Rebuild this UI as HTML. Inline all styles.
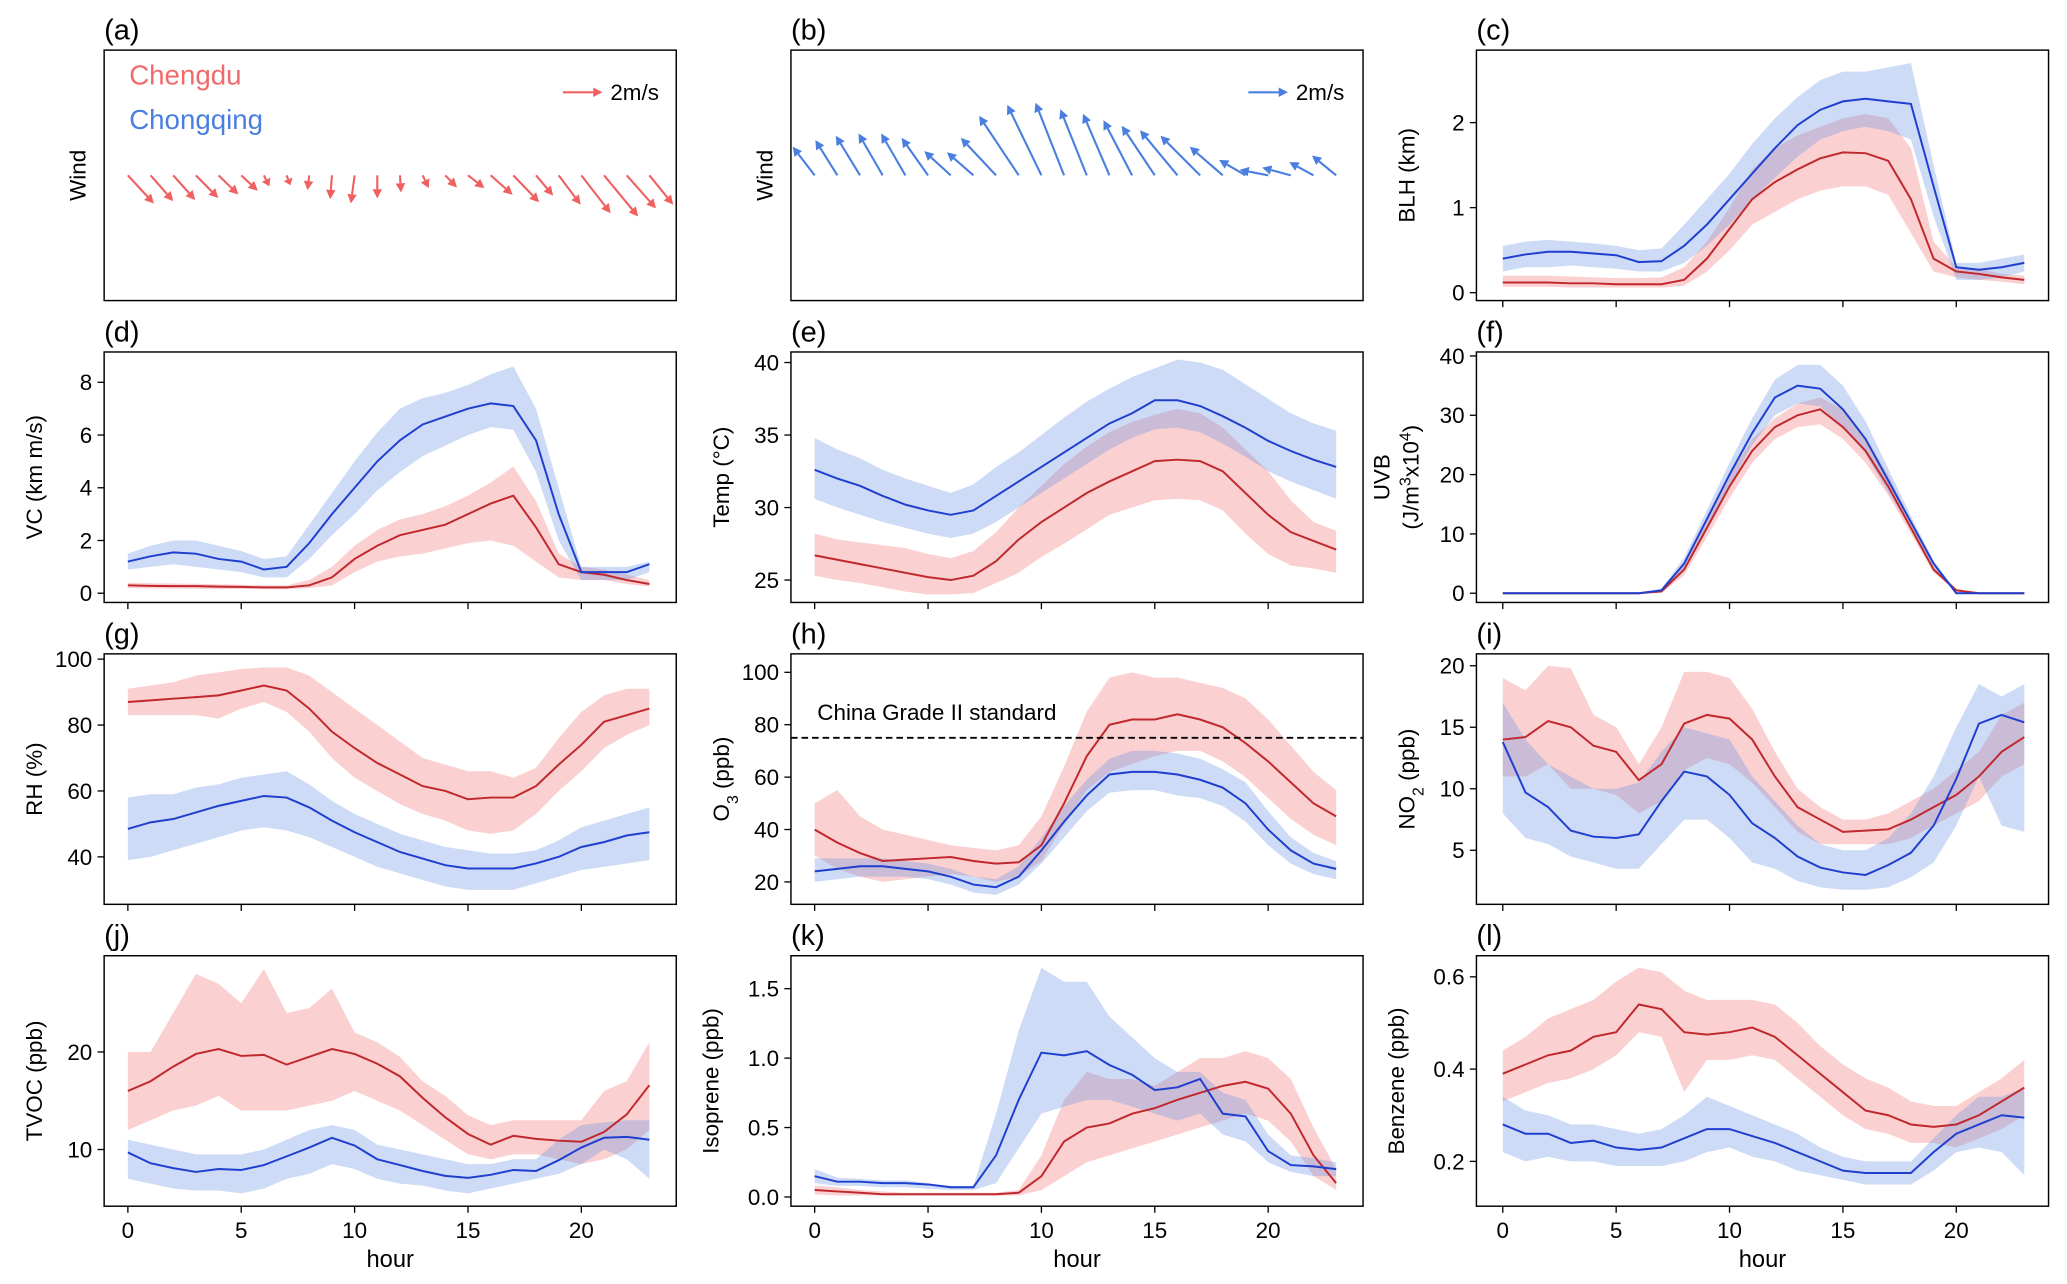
<!DOCTYPE html>
<html><head><meta charset="utf-8"><style>
html,body{margin:0;padding:0;background:#fff;}
svg{display:block;font-family:"Liberation Sans","DejaVu Sans",sans-serif;}
</style></head><body>
<svg id="fig" width="2067" height="1284" viewBox="0 0 1568 974" xmlns="http://www.w3.org/2000/svg">
<defs>
<clipPath id="clipA"><rect x="79" y="38" width="434" height="190"/></clipPath>
<clipPath id="clipB"><rect x="600" y="38" width="434" height="190"/></clipPath>
</defs>
</svg>
<script>
const hours = [0,1,2,3,4,5,6,7,8,9,10,11,12,13,14,15,16,17,18,19,20,21,22,23];
const xTicks = [0,5,10,15,20];
// Wind (m/s)
const cdU = [1.18,1.03,1.0,1.02,0.9,0.75,0.25,0.17,-0.08,-0.08,-0.17,0,0.05,0.28,0.53,0.75,1.0,1.17,0.78,1.0,1.33,1.55,1.33,1.08];
const cdV = [-1.28,-1.17,-1.12,-1.03,-0.87,-0.7,-0.5,-0.45,-0.67,-1.08,-1.28,-1.05,-0.78,-0.58,-0.55,-0.58,-0.88,-1.22,-0.92,-1.33,-1.72,-1.87,-1.5,-1.33];
const cqU = [-1.0,-1.0,-1.1,-1.1,-1.1,-1.2,-1.2,-1.2,-1.6,-1.8,-1.55,-1.3,-1.2,-1.2,-1.3,-1.5,-1.7,-1.8,-1.5,-1.2,-1.3,-1.3,-1.1,-1.1];
const cqV = [1.3,1.6,1.8,1.9,1.9,1.7,1.1,1.05,1.7,2.7,3.2,3.3,3.0,2.8,2.5,2.25,2.05,1.8,1.3,0.7,0.25,0.35,0.6,0.9];
// BLH (km)
const blhCd = [.12,.12,.12,.11,.11,.1,.1,.1,.15,.4,.75,1.1,1.3,1.45,1.58,1.65,1.64,1.55,1.1,.4,.25,.22,.18,.15];
const blhCdHi = [.2,.2,.2,.19,.18,.17,.17,.18,.3,.6,1.0,1.45,1.7,1.85,1.95,2.05,2.1,2.05,1.7,.6,.3,.28,.22,.2];
const blhCdLo = [.07,.07,.07,.06,.06,.06,.06,.06,.08,.25,.5,.8,.95,1.1,1.2,1.25,1.25,1.15,.7,.25,.18,.15,.13,.1];
const blhCq = [.4,.45,.48,.48,.46,.44,.36,.37,.55,.8,1.1,1.4,1.7,1.97,2.15,2.25,2.28,2.25,2.22,1.25,.3,.27,.3,.35];
const blhCqHi = [.55,.6,.62,.6,.58,.55,.5,.52,.8,1.1,1.4,1.75,2.05,2.3,2.5,2.6,2.6,2.65,2.7,1.5,.35,.35,.4,.45];
const blhCqLo = [.25,.3,.3,.32,.3,.28,.25,.25,.35,.55,.8,1.1,1.35,1.6,1.8,1.9,1.95,1.9,1.8,.9,.15,.15,.18,.25];
// VC
const vcCd = [.3,.28,.27,.27,.25,.24,.22,.22,.3,.6,1.3,1.8,2.2,2.4,2.6,3.0,3.4,3.7,2.5,1.1,.8,.7,.5,.35];
const vcCdHi = [.4,.38,.37,.36,.34,.32,.3,.3,.5,1.0,1.8,2.4,2.8,3.0,3.3,3.7,4.2,4.8,3.5,1.5,1.0,.9,.7,.5];
const vcCdLo = [.2,.18,.18,.17,.16,.16,.15,.15,.2,.3,.8,1.2,1.4,1.5,1.7,1.9,2.0,1.8,1.2,.6,.5,.5,.35,.25];
const vcCq = [1.2,1.4,1.55,1.5,1.3,1.2,.9,1.0,1.9,3.0,4.0,5.0,5.8,6.4,6.7,7.0,7.2,7.1,5.8,3.0,.8,.8,.8,1.1];
const vcCqHi = [1.5,1.8,2.0,2.0,1.8,1.6,1.3,1.4,2.6,3.8,5.0,6.1,7.0,7.4,7.6,7.9,8.3,8.6,7.0,4.0,1.0,1.0,1.0,1.2];
const vcCqLo = [.9,1.0,1.1,1.0,.9,.8,.6,.6,1.3,2.2,3.0,3.9,4.6,5.2,5.6,6.0,6.3,6.2,4.6,2.0,.5,.5,.5,.8];
// Temp
const tCd = [26.7,26.4,26.1,25.8,25.5,25.2,25.0,25.3,26.3,27.8,29.0,30.0,31.0,31.8,32.5,33.2,33.3,33.2,32.5,31.0,29.5,28.3,27.7,27.1];
const tCdHi = [28.2,27.8,27.6,27.4,27.2,26.8,26.5,27.0,28.3,30.0,31.5,33.0,34.2,35.2,35.9,36.4,36.8,36.5,35.5,34.0,32.5,30.5,29.0,28.4];
const tCdLo = [25.3,25.0,24.8,24.5,24.2,24.0,24.0,24.1,24.8,25.5,26.6,27.5,28.5,29.5,30.0,30.5,30.6,30.5,29.8,28.2,26.8,26.0,25.8,25.5];
const tCq = [32.6,32.0,31.5,30.8,30.2,29.8,29.5,29.8,30.8,31.8,32.8,33.8,34.8,35.8,36.5,37.4,37.4,37.0,36.3,35.5,34.6,33.9,33.3,32.8];
const tCqHi = [34.8,34.0,33.4,32.6,32.0,31.5,31.0,31.6,32.8,33.8,35.0,36.2,37.3,38.2,39.0,39.6,40.2,40.0,39.5,38.5,37.5,36.5,35.8,35.3];
const tCqLo = [30.6,30.0,29.5,29.0,28.6,28.2,27.9,28.2,29.0,30.0,31.0,32.0,33.0,34.0,34.8,35.4,35.5,35.2,34.4,33.5,32.5,31.8,31.2,30.6];
// UVB
const uvCd = [0,0,0,0,0,0,0,.3,4,11,18,24,28,30,31,28,24,18,11,4,.5,0,0,0];
const uvCdHi = [0,0,0,0,0,0,0,.5,5,12.5,20,26,29.5,32,33,31,26,20,12,4.5,.8,0,0,0];
const uvCdLo = [0,0,0,0,0,0,0,.1,3,9.5,16,22,26,28,28.5,26,22,16.5,10,3.5,.3,0,0,0];
const uvCq = [0,0,0,0,0,0,0,.5,5,12.5,20,27,33,35,34.5,31,26,19,12,5,0,0,0,0];
const uvCqHi = [0,0,0,0,0,0,0,.8,6,14,22,29.5,36,38.5,38.5,35,29,21,13,5.5,.3,0,0,0];
const uvCqLo = [0,0,0,0,0,0,0,.2,4,11,18,25,30,32,31.5,28,23.5,17,11,4.3,0,0,0,0];
// RH
const rhCd = [87,87.5,88,88.5,89,90.5,92,90.5,85,78,73,68.5,65,61.5,60,57.5,58,58,61.5,68,74,81,83,85];
const rhCdHi = [91,92,93,95,96,97,97.5,97.5,95,90,85,80,75,70,68,66,66,64,67,76,84,89,91,91];
const rhCdLo = [83,83,83,83,82,85,87,84,78,70,64,60,56,53,51,48,47,48,53,60,66,73,77,80];
const rhCq = [48.5,50.5,51.5,53.5,55.5,57,58.5,58,55,51,47.5,44.5,41.5,39.5,37.5,36.5,36.5,36.5,38,40,43,44.5,46.5,47.5];
const rhCqHi = [58,59,59,61,62,64,65,66,62,57,53,50,47,45,43,42,41,41,42,45,49,51,53,55];
const rhCqLo = [39,40,42,44,46,48,49,48,46,43,40,37,35,33,31,30,30,30,32,34,36,37,38,39];
// O3
const o3Cd = [40,35,31,28,28.5,29,29.5,28,27,27.5,34,50,68,80,82,82,84,82,79,73,66,58,50,45];
const o3CdHi = [50,55,45,40,38,36,34,33,32,34,45,64,85,98,100,98,98,96,94,90,82,72,62,55];
const o3CdLo = [30,25,22,20,21,22,23,22,20,22,28,42,55,62,65,68,70,70,66,60,52,44,38,34];
const o3Cq = [24,25,26,26,25,24,22,19,18,22,32,43,53,61,62,62,61,59,56,50,40,32,27,25];
const o3CqHi = [29,29,29,29,28,27,25,22,21,26,37,49,59,67,70,70,69,67,63,58,47,37,31,28];
const o3CqLo = [20,21,22,22,22,21,19,16,15,19,27,37,47,54,55,55,53,52,49,43,34,27,23,21];
const o3Standard = 75;
// NO2
const no2Cd = [14,14.2,15.5,15,13.5,13,10.7,12,15.3,16,15.7,14,11,8.5,7.5,6.5,6.6,6.7,7.5,8.5,9.5,11,13,14.2];
const no2CdHi = [19,18,20,19.8,16,15,12,15,19.5,19.5,19,16.5,13,10,8.5,7.5,7.5,8,9,10,11.5,13,16,17];
const no2CdLo = [11,11,12,10,10,9.5,8,9,11.5,12.5,12,10.5,8.5,6.5,5.5,5.5,5.5,5.5,6,7,8,9,11,12];
const no2Cq = [13.8,9.7,8.5,6.6,6.1,6,6.3,9,11.4,11,9.5,7.2,6,4.5,3.6,3.2,3,3.8,4.8,7,10.8,15.3,16,15.4];
const no2CqHi = [17,14,12,11,10,10,10.5,13,15,14.5,14,11,9,7,5.5,5,5,6,8,11,15,18.5,17.5,18.5];
const no2CqLo = [8,6,5.5,4.5,4,3.5,3.5,5.5,7.5,7.5,6,4,3.5,2.5,2,1.8,1.8,2,2.8,4,7,11,7,6.5];
// TVOC
const tvCd = [16,17,18.5,19.8,20.3,19.6,19.7,18.7,19.5,20.3,19.8,18.8,17.5,15.3,13.3,11.6,10.5,11.4,11.1,10.9,10.8,11.8,13.6,16.6];
const tvCdHi = [20,20,24,28,27,25,28.5,24,24.5,26.5,22,21,19.5,17,15.5,13.5,12.5,13,13,13,13,16,17,21];
const tvCdLo = [12,13,14,14.5,15.5,14,14,14,14.5,15,16,15,14,12.5,11,9.5,9,9.5,9.5,9,8.5,9,10,12];
const tvCq = [9.7,8.6,8.1,7.7,8,7.9,8.4,9.3,10.2,11.2,10.4,9,8.4,7.8,7.3,7.1,7.4,7.9,7.8,8.9,10.2,11.2,11.3,11];
const tvCqHi = [11,10.5,10,9.5,9.5,9.5,10,11,12,12.5,12,10.5,10,9.5,9,8.5,8.5,9,9,11,12.5,12.8,13,13];
const tvCqLo = [7,6.5,6,5.8,5.8,5.5,6,7,7.5,8.5,8,7,6.5,6.3,5.8,5.5,6,6.5,7,7.5,8.5,10,9,7];
// Isoprene
const isoCd = [.05,.04,.03,.02,.02,.02,.02,.02,.02,.03,.15,.4,.5,.53,.6,.64,.7,.75,.8,.83,.78,.6,.3,.1];
const isoCdHi = [.08,.07,.05,.04,.03,.03,.03,.03,.03,.05,.3,.7,.9,.85,.85,.8,.9,1.0,1.0,1.05,1.0,.85,.5,.2];
const isoCdLo = [.02,.01,.01,.01,.01,.01,.01,.01,.01,.01,.05,.15,.25,.3,.35,.4,.45,.5,.55,.6,.55,.4,.15,.05];
const isoCq = [.15,.11,.11,.1,.1,.09,.07,.07,.3,.7,1.04,1.02,1.05,.95,.88,.77,.79,.85,.6,.58,.33,.23,.22,.2];
const isoCqHi = [.2,.14,.13,.12,.12,.1,.08,.08,.6,1.2,1.65,1.55,1.55,1.3,1.15,1.0,.9,.9,.75,.7,.45,.3,.28,.25];
const isoCqLo = [.1,.08,.08,.07,.07,.06,.05,.05,.1,.35,.6,.65,.7,.7,.65,.6,.55,.6,.45,.4,.25,.18,.15,.15];
// Benzene
const bzCd = [.39,.41,.43,.44,.47,.48,.54,.53,.48,.475,.48,.49,.47,.43,.39,.35,.31,.3,.28,.275,.28,.3,.33,.36];
const bzCdHi = [.44,.47,.51,.53,.55,.59,.62,.61,.57,.55,.55,.55,.54,.5,.45,.41,.38,.36,.33,.32,.32,.35,.38,.42];
const bzCdLo = [.33,.35,.37,.38,.4,.43,.48,.47,.35,.42,.42,.43,.42,.38,.34,.3,.27,.26,.24,.24,.23,.25,.27,.3];
const bzCq = [.28,.26,.26,.24,.245,.23,.225,.23,.25,.27,.27,.255,.24,.22,.2,.18,.175,.175,.175,.22,.26,.28,.3,.295];
const bzCqHi = [.34,.31,.3,.28,.28,.27,.26,.27,.3,.34,.32,.3,.28,.26,.23,.21,.2,.2,.2,.25,.3,.34,.34,.36];
const bzCqLo = [.22,.2,.21,.2,.2,.19,.19,.19,.2,.22,.23,.21,.2,.18,.17,.16,.15,.15,.15,.18,.22,.23,.22,.17];

const NS = "http://www.w3.org/2000/svg";
const svg = document.getElementById('fig');
const colLeft = [79,600,1120], rowTop = [38,267,496,725], AW = 434, AH = 190;
const hour0 = [97,618,1140], pxPerHour = 17.2;
const RED = "#c0282d", BLUE = "#1f3fcf", REDF = "#f07878", BLUEF = "#6f97e6";

function el(tag, attrs, parent){
  const e = document.createElementNS(NS, tag);
  for (const k in attrs) e.setAttribute(k, attrs[k]);
  (parent||svg).appendChild(e);
  return e;
}
function txt(s, attrs, parent){ const t = el('text', attrs, parent); t.textContent = s; return t; }

function frame(col,row,letter){
  const g = el('g',{});
  
  
  const t = txt('(' + letter + ')', {x:colLeft[col], y:rowTop[row]-8, 'font-size':22}, g);
  
  
  return g;
}
function box(g,col,row){
  const r = el('rect',{x:colLeft[col],y:rowTop[row],width:AW,height:AH,fill:'none',stroke:'#000','stroke-width':1.1},g);
  
  
}

const panels = [
 {L:'c',col:2,row:0,ylab:['BLH (km)'],ref:[0,222,2,93],ticks:[0,1,2],fmt:v=>String(v),cd:[blhCd,blhCdLo,blhCdHi],cq:[blhCq,blhCqLo,blhCqHi]},
 {L:'d',col:0,row:1,ylab:['VC (km m/s)'],ref:[0,450,8,290],ticks:[0,2,4,6,8],fmt:v=>String(v),cd:[vcCd,vcCdLo,vcCdHi],cq:[vcCq,vcCqLo,vcCqHi]},
 {L:'e',col:1,row:1,ylab:['Temp (°C)'],ref:[25,440,40,275],ticks:[25,30,35,40],fmt:v=>String(v),cd:[tCd,tCdLo,tCdHi],cq:[tCq,tCqLo,tCqHi]},
 {L:'f',col:2,row:1,ylab:['UVB','uvb'],ref:[0,450,40,270],ticks:[0,10,20,30,40],fmt:v=>String(v),cd:[uvCd,uvCdLo,uvCdHi],cq:[uvCq,uvCqLo,uvCqHi]},
 {L:'g',col:0,row:2,ylab:['RH (%)'],ref:[40,650,100,500],ticks:[40,60,80,100],fmt:v=>String(v),cd:[rhCd,rhCdLo,rhCdHi],cq:[rhCq,rhCqLo,rhCqHi]},
 {L:'h',col:1,row:2,ylab:['o3'],ref:[20,669,100,510],ticks:[20,40,60,80,100],fmt:v=>String(v),cd:[o3Cd,o3CdLo,o3CdHi],cq:[o3Cq,o3CqLo,o3CqHi]},
 {L:'i',col:2,row:2,ylab:['no2'],ref:[5,645,20,505],ticks:[5,10,15,20],fmt:v=>String(v),cd:[no2Cd,no2CdLo,no2CdHi],cq:[no2Cq,no2CqLo,no2CqHi]},
 {L:'j',col:0,row:3,ylab:['TVOC (ppb)'],ref:[10,872,20,798],ticks:[10,20],fmt:v=>String(v),cd:[tvCd,tvCdLo,tvCdHi],cq:[tvCq,tvCqLo,tvCqHi]},
 {L:'k',col:1,row:3,ylab:['Isoprene (ppb)'],ref:[0,908,1.5,750],ticks:[0,0.5,1,1.5],fmt:v=>v.toFixed(1),cd:[isoCd,isoCdLo,isoCdHi],cq:[isoCq,isoCqLo,isoCqHi]},
 {L:'l',col:2,row:3,ylab:['Benzene (ppb)'],ref:[0.2,881,0.6,741],ticks:[0.2,0.4,0.6],fmt:v=>v.toFixed(1),cd:[bzCd,bzCdLo,bzCdHi],cq:[bzCq,bzCqLo,bzCqHi]},
];

panels.forEach(p=>{
  const g = frame(p.col,p.row,p.L);
  const [v0,p0,v1,p1] = p.ref;
  const yS = v => p0 + (v-v0)*(p1-p0)/(v1-v0);
  const xS = h => hour0[p.col] + h*pxPerHour;
  const cx = colLeft[p.col], top = rowTop[p.row];
  const clipId = 'clip'+p.L;
  const cp = el('clipPath',{id:clipId},g);
  el('rect',{x:cx,y:top,width:AW,height:AH},cp);
  const plot = el('g',{'clip-path':'url(#'+clipId+')'},g);
  function band(lo,hi,fill,name){
    let d = 'M' + hours.map(h=>xS(h).toFixed(1)+','+yS(hi[h]).toFixed(1)).join('L');
    d += 'L' + hours.slice().reverse().map(h=>xS(h).toFixed(1)+','+yS(lo[h]).toFixed(1)).join('L') + 'Z';
    const b = el('path',{d:d,fill:fill,'fill-opacity':0.35,stroke:'none'},plot);
    
    
  }
  function line(vals,color,name){
    const d = 'M' + hours.map(h=>xS(h).toFixed(1)+','+yS(vals[h]).toFixed(1)).join('L');
    const l = el('path',{d:d,fill:'none',stroke:color,'stroke-width':1.5},plot);
    
    
  }
  band(p.cd[1],p.cd[2],REDF,'chengdu-band');
  band(p.cq[1],p.cq[2],BLUEF,'chongqing-band');
  line(p.cd[0],RED,'chengdu-line');
  line(p.cq[0],BLUE,'chongqing-line');
  if (p.L==='h'){
    const dl = el('line',{x1:cx,x2:cx+AW,y1:yS(o3Standard),y2:yS(o3Standard),stroke:'#000','stroke-width':1.5,'stroke-dasharray':'5,3'},g);
    
    
    const st = txt('China Grade II standard',{x:620,y:546,'font-size':17},g);
    
    
  }
  box(g,p.col,p.row);
  p.ticks.forEach(v=>{
    const y = yS(v);
    el('line',{x1:cx-5,x2:cx,y1:y,y2:y,stroke:'#000','stroke-width':1},g);
    const t = txt(p.fmt(v),{x:cx-9,y:y+6,'font-size':17,'text-anchor':'end'},g);
    
    
  });
  xTicks.forEach(h=>{
    const x = xS(h);
    el('line',{x1:x,x2:x,y1:top+AH,y2:top+AH+5,stroke:'#000','stroke-width':1},g);
    if (p.row===3){
      const t = txt(String(h),{x:x,y:top+AH+24,'font-size':17,'text-anchor':'middle'},g);
      
      
    }
  });
  if (p.row===3){
    const t = txt('hour',{x:cx+AW/2,y:961,'font-size':18,'text-anchor':'middle'},g);
    
    
  }
  const midY = top+AH/2;
  const lx = cx-47 - (p.L==='k'||p.L==='l'?8:0);
  let yl;
  if (p.ylab[0]==='UVB'){
    yl = el('text',{transform:'translate('+(cx-58)+','+midY+') rotate(-90)','font-size':17,'text-anchor':'middle'},g);
    yl.innerHTML = '<tspan x="0" y="-8">UVB</tspan><tspan x="0" y="14">(J/m<tspan baseline-shift="super" font-size="12">3</tspan>x10<tspan baseline-shift="super" font-size="12">4</tspan>)</tspan>';
  } else if (p.ylab[0]==='o3'){
    yl = el('text',{transform:'translate('+(cx-47)+','+midY+') rotate(-90)','font-size':17,'text-anchor':'middle'},g);
    yl.innerHTML = 'O<tspan baseline-shift="sub" font-size="12">3</tspan> (ppb)';
  } else if (p.ylab[0]==='no2'){
    yl = el('text',{transform:'translate('+(cx-47)+','+midY+') rotate(-90)','font-size':17,'text-anchor':'middle'},g);
    yl.innerHTML = 'NO<tspan baseline-shift="sub" font-size="12">2</tspan> (ppb)';
  } else {
    yl = txt(p.ylab[0],{transform:'translate('+lx+','+midY+') rotate(-90)','font-size':17,'text-anchor':'middle'},g);
  }
  
  
});

// wind panels
const windScale = 16.7, windY = 133;
function arrow(parent,x,y,dx,dy,color){
  const len = Math.hypot(dx,dy); if (len<0.5) return;
  const ux = dx/len, uy = dy/len, hl = Math.min(7, len*0.6), hw = 3.6;
  const bx = x+dx-ux*hl, by = y+dy-uy*hl;
  const a = el('g',{},parent);
  el('line',{x1:x,y1:y,x2:bx,y2:by,stroke:color,'stroke-width':1.6},a);
  el('polygon',{points:[(x+dx)+','+(y+dy),(bx-uy*hw)+','+(by+ux*hw),(bx+uy*hw)+','+(by-ux*hw)].join(' '),fill:color},a);
  return a;
}
[['a',0,cdU,cdV,'#f06060','clipA'],['b',1,cqU,cqV,'#4a7fe0','clipB']].forEach(([L,col,U,V,color,clip])=>{
  const g = frame(col,0,L);
  const plot = el('g',{'clip-path':'url(#'+clip+')'},g);
  hours.forEach(h=>{
    const a = arrow(plot, hour0[col]+h*pxPerHour, windY, U[h]*windScale, -V[h]*windScale, color);
    if (a){
      
      
    }
  });
  box(g,col,0);
  const yl = txt('Wind',{transform:'translate('+(colLeft[col]-14)+','+133+') rotate(-90)','font-size':17,'text-anchor':'middle'},g);
  
  
  const rx = col===0 ? 427 : 947;
  const ra = arrow(g, rx, 70, 30, 0, color);
  
  
  const rt = txt('2m/s',{x:rx+36,y:76,'font-size':17},g);
  
  
});
const l1 = txt('Chengdu',{x:98,y:64,'font-size':21,fill:'#f06a6a'});


const l2 = txt('Chongqing',{x:98,y:98,'font-size':21,fill:'#4a7fe0'});


</script>
</body></html>
